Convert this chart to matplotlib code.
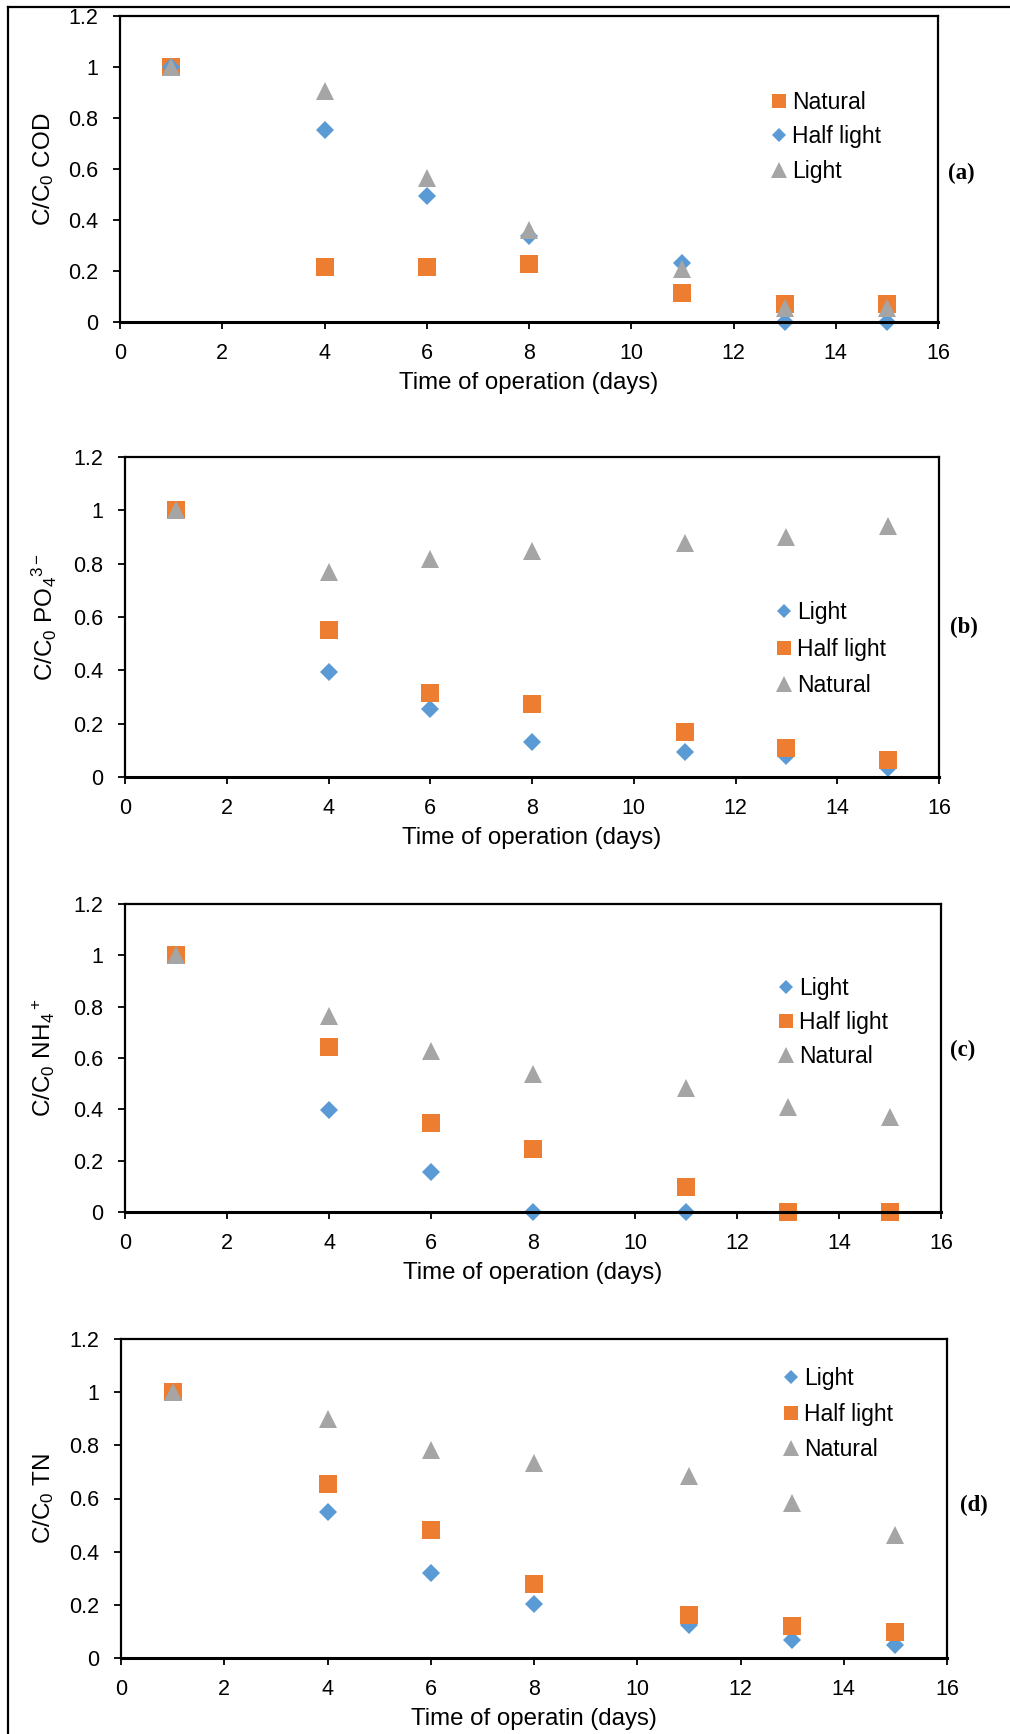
import matplotlib
matplotlib.use("Agg")
import matplotlib.pyplot as plt
from matplotlib.lines import Line2D

plt.rcParams['font.family'] = ['Liberation Sans', 'DejaVu Sans']
plt.rcParams['mathtext.fontset'] = 'custom'
plt.rcParams['mathtext.rm'] = 'Liberation Sans'
plt.rcParams['mathtext.it'] = 'Liberation Sans'

days = [1, 4, 6, 8, 11, 13, 15]

# panel (a) COD
a_natural = [1.0, 0.215, 0.215, 0.228, 0.113, 0.072, 0.072]
a_half = [1.0, 0.754, 0.493, 0.337, 0.233, 0.0, 0.0]
a_light = [1.0, 0.905, 0.564, 0.362, 0.206, 0.055, 0.055]

# panel (b) PO4
b_light = [1.0, 0.392, 0.255, 0.13, 0.092, 0.077, 0.034]
b_half = [1.0, 0.552, 0.315, 0.275, 0.169, 0.109, 0.065]
b_natural = [1.0, 0.77, 0.816, 0.848, 0.876, 0.9, 0.94]

# panel (c) NH4
c_light = [1.0, 0.398, 0.155, 0.0, 0.0, 0.0, 0.0]
c_half = [1.0, 0.641, 0.346, 0.247, 0.099, 0.0, 0.0]
c_natural = [1.0, 0.762, 0.629, 0.538, 0.482, 0.408, 0.372]

# panel (d) TN
d_light = [1.0, 0.55, 0.32, 0.203, 0.125, 0.069, 0.05]
d_half = [1.0, 0.654, 0.48, 0.279, 0.162, 0.122, 0.096]
d_natural = [1.0, 0.9, 0.783, 0.733, 0.683, 0.583, 0.464]

ORANGE = '#ED7D31'
BLUE = '#5B9BD5'
GRAY = '#A5A5A5'
STY = {'sq': dict(marker='s', color=ORANGE, ms=12.5),
       'di': dict(marker='D', color=BLUE, ms=8.8),
       'tr': dict(marker='^', color=GRAY, ms=13)}

W, H = 1010, 1734
fig = plt.figure(figsize=(W / 100, H / 100), dpi=100)

panels = [
    # box px (left, right, top, bottom), series, ylabel, xlabel, tag + its px pos, legend px (x, top, spacing)
    ((120, 938, 16, 322),
     [('Natural', a_natural, 'sq'), ('Half light', a_half, 'di'), ('Light', a_light, 'tr')],
     'C/C$_0$ COD', 'Time of operation (days)', ('(a)', 961, 173), (770, 91, 0.5)),
    ((125, 939, 457, 777),
     [('Light', b_light, 'di'), ('Half light', b_half, 'sq'), ('Natural', b_natural, 'tr')],
     'C/C$_0$ PO$_4$$^{3\u2212}$', 'Time of operation (days)', ('(b)', 964, 627), (775, 601, 0.6)),
    ((125, 941, 904, 1212),
     [('Light', c_light, 'di'), ('Half light', c_half, 'sq'), ('Natural', c_natural, 'tr')],
     'C/C$_0$ NH$_4$$^+$', 'Time of operation (days)', ('(c)', 963, 1050), (777, 977, 0.47)),
    ((121, 947, 1339, 1658),
     [('Light', d_light, 'di'), ('Half light', d_half, 'sq'), ('Natural', d_natural, 'tr')],
     'C/C$_0$ TN', 'Time of operatin (days)', ('(d)', 974, 1505), (782, 1367, 0.55)),
]

for (l, r, t, b), series, ylab, xlab, (tag, tx, ty), (lx, ly, lsp) in panels:
    ax = fig.add_axes([l / W, 1 - b / H, (r - l) / W, (b - t) / H])
    handles = []
    for name, vals, key in series:
        s = STY[key]
        ax.plot(days, vals, linestyle='none', marker=s['marker'], color=s['color'],
                markersize=s['ms'], markeredgewidth=0, clip_on=False)
        handles.append(Line2D([], [], linestyle='none', marker=s['marker'], color=s['color'],
                              markersize=s['ms'] * 0.85, markeredgewidth=0, label=name))
    ax.set_xlim(0, 16)
    ax.set_ylim(0, 1.2)
    ax.set_xticks(range(0, 17, 2))
    ax.set_yticks([0, 0.2, 0.4, 0.6, 0.8, 1.0, 1.2])
    ax.set_yticklabels(['0', '0.2', '0.4', '0.6', '0.8', '1', '1.2'])
    for sp in ax.spines.values():
        sp.set_linewidth(1.6)
        sp.set_color('black')
    ax.spines['bottom'].set_linewidth(2.2)
    ax.tick_params(direction='out', length=5, width=1.3, labelsize=15.5)
    ax.tick_params(axis='x', top=False, pad=10)
    ax.tick_params(axis='y', right=False, pad=11)
    ax.set_xlabel(xlab, fontsize=17.3)
    ax.set_ylabel(ylab, fontsize=17.5)
    h = b - t
    ax.xaxis.set_label_coords(0.5, -(372 - 322) / h)
    ax.yaxis.set_label_coords((44 - l) / (r - l), 0.5)
    ax.yaxis.label.set_va('center')
    ax.legend(handles=handles, loc='upper left',
              bbox_to_anchor=((lx - l) / (r - l), (b - ly) / h),
              frameon=False, fontsize=16.5, borderpad=0, borderaxespad=0,
              handlelength=0.8, handletextpad=0.15, labelspacing=lsp)
    fig.text(tx / W, 1 - ty / H, tag, fontsize=16.5,
             fontweight='bold', family='Liberation Serif', ha='center', va='center')

# outer frame (top and left edges only)
fig.add_artist(Line2D([8 / W, 1], [1 - 7 / H, 1 - 7 / H], color='black', lw=1.6))
fig.add_artist(Line2D([8 / W, 8 / W], [0, 1 - 7 / H], color='black', lw=1.6))

fig.savefig('out.png', dpi=100)
